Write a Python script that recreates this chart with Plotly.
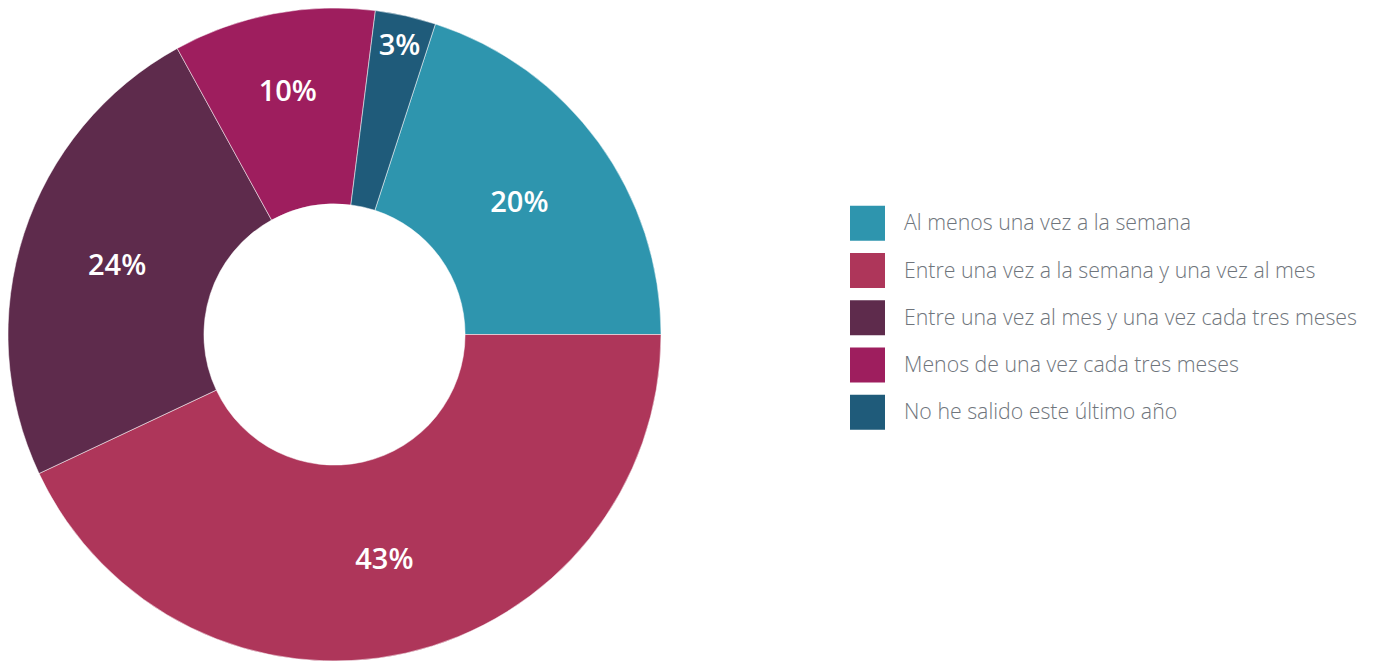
import plotly.graph_objects as go

labels = [
    "Al menos una vez a la semana",
    "Entre una vez a la semana y una vez al mes",
    "Entre una vez al mes y una vez cada tres meses",
    "Menos de una vez cada tres meses",
    "No he salido este último año",
]
values = [20, 43, 24, 10, 3]
colors = ["#2E95AE", "#AE365A", "#5E2B4C", "#9E1E5E", "#1F5B7A"]

# page has an 8px body margin, so the figure starts at (8, 8)
OFF = 8
W, H = 1373 - OFF, 661 - OFF

fig = go.Figure()
fig.add_trace(go.Pie(
    labels=labels, values=values, sort=False,
    direction="clockwise", rotation=18, hole=0.4,
    marker=dict(colors=colors, line=dict(color="white", width=0.5)),
    textinfo="percent", textposition="inside", insidetextorientation="horizontal",
    textfont=dict(family="Open Sans", size=29, color="white", weight=600),
    domain=dict(x=[0, H / W], y=[0, 1]),
    showlegend=False, hoverinfo="label+percent",
))

# legend drawn by hand so the swatches can be large squares
def px_x(x):
    return (x - OFF) / W

def px_y(y):
    return 1 - (y - OFF) / H

for i, (lab, col) in enumerate(zip(labels, colors)):
    yc = 223.3 + i * 47.25
    fig.add_shape(type="rect", xref="paper", yref="paper",
                  x0=px_x(850), x1=px_x(885), y0=px_y(yc + 17.5), y1=px_y(yc - 17.5),
                  fillcolor=col, line=dict(width=0))
    fig.add_annotation(x=px_x(902), y=px_y(yc - 1.5), xref="paper", yref="paper",
                       text=lab, showarrow=False, xanchor="left", yanchor="middle",
                       font=dict(family="Open Sans", size=21.3, color="#6F757C", weight=300))

fig.update_layout(
    width=W, height=H,
    margin=dict(l=0, r=0, t=0, b=0),
    paper_bgcolor="white", plot_bgcolor="white",
    uniformtext=dict(minsize=29, mode="show"),
)

fig.write_html("out.html")
